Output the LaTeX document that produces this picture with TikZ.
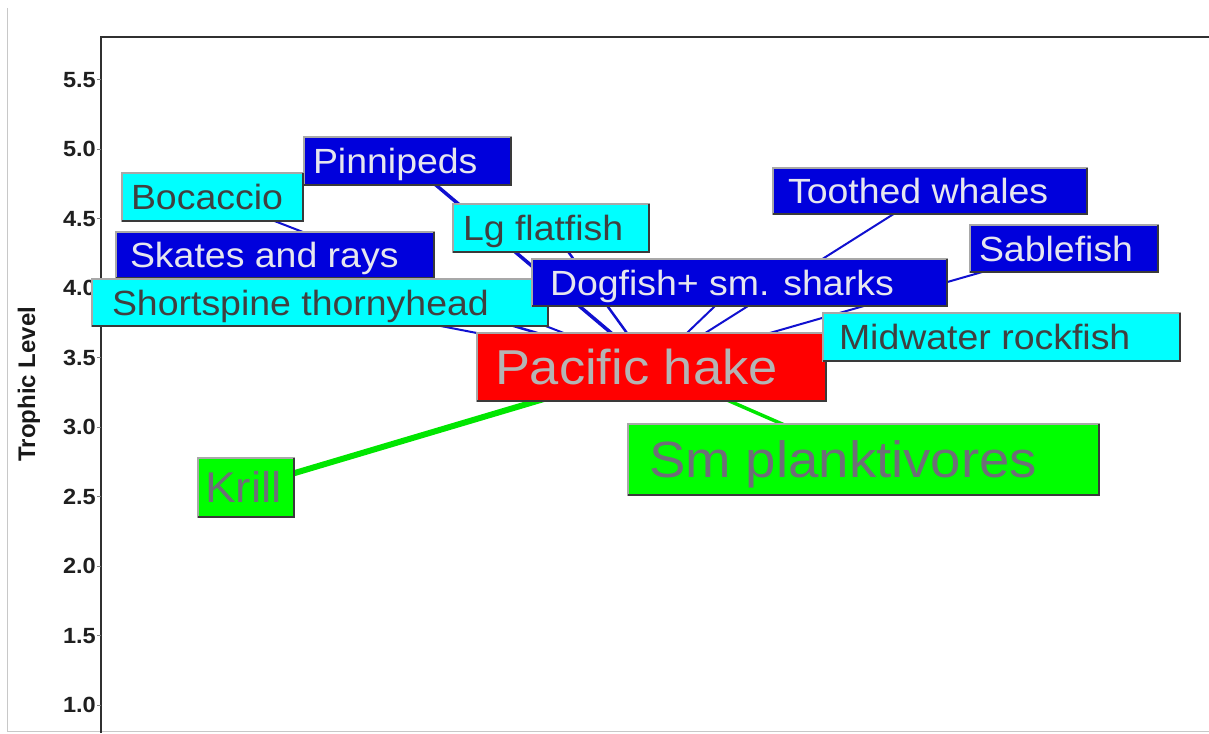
\documentclass[tikz,border=0pt]{standalone}
\usepackage{fontspec}
\setmainfont{Liberation Sans}[FakeStretch=1.07]
\newfontfamily\ylabfont{Liberation Sans}
\usetikzlibrary{backgrounds}
\definecolor{boxblue}{HTML}{0000DC}
\definecolor{boxcyan}{HTML}{00FFFF}
\definecolor{boxred}{HTML}{FF0000}
\definecolor{boxgreen}{HTML}{00FF00}
\definecolor{txtlight}{HTML}{E6E6EE}
\definecolor{txtdark}{HTML}{404040}
\definecolor{txthake}{HTML}{B4B4B4}
\definecolor{txtgreen}{HTML}{6E6E78}
\definecolor{edgelight}{HTML}{A8A8A8}
\definecolor{edgedark}{HTML}{3A3A3A}
\definecolor{linkblue}{HTML}{1010D0}
\definecolor{linkgreen}{HTML}{00E600}
\definecolor{framegray}{HTML}{C8C8C8}
\definecolor{axisgray}{HTML}{303030}
\newcommand{\fwbox}[3]{\makebox[#1pt][l]{\hspace{#2pt}#3}}
\newcommand{\darkedge}[1]{\draw[lowedge] (#1.south west) -- (#1.south east) -- (#1.north east);}
\tikzset{
  bx/.style={draw=edgelight, line width=1.6pt, anchor=north west, inner xsep=0pt, inner ysep=0pt, outer sep=0pt, text depth=0pt},
  normbox/.style={bx, font=\fontsize{35}{42}\selectfont, text height=25pt},
  bluebox/.style={normbox, fill=boxblue, text=txtlight},
  cyanbox/.style={normbox, fill=boxcyan, text=txtdark},
  lowedge/.style={draw=edgedark, line width=2pt},
  web/.style={draw=linkblue, line width=2pt},
  food/.style={draw=linkgreen},
  axisline/.style={draw=axisgray, line width=2pt},
  tickmark/.style={draw=gray, line width=1pt},
  ticklab/.style={anchor=east, inner sep=0pt, font=\bfseries\fontsize{22}{26}\selectfont, text=black!88},
}
\begin{document}
\begin{tikzpicture}[x=1pt,y=-1pt]
\useasboundingbox (0,0) rectangle (1209,733);
% outer frame and axes
\draw[framegray, line width=1pt] (7,8) -- (7,731) -- (1209,731);
\draw[axisline] (101,733) -- (101,37) -- (1209,37);
\foreach \v [count=\i] in {1.0,1.5,2.0,2.5,3.0,3.5,4.0,4.5,5.0,5.5}{
  \pgfmathsetmacro\yy{705-(\v-1)*138.9}
  \draw[tickmark] (97,\yy) -- (101,\yy);
  \node[ticklab] (tk\i) at (96,\yy) {\v};
}
\node[rotate=90, font=\ylabfont\bfseries\fontsize{24}{28}\selectfont, text=black!90] (ylab) at (29,384) {Trophic Level};
% boxes
\node[bluebox, minimum height=48pt] (pin) at (304,137) {\fwbox{207}{9}{Pinnipeds}}; \darkedge{pin}
\node[cyanbox, minimum height=48pt] (boc) at (122,173) {\fwbox{181}{9}{Bocaccio}}; \darkedge{boc}
\node[bluebox, minimum height=46pt] (ska) at (116,232) {\fwbox{318}{14}{Skates and rays}}; \darkedge{ska}
\node[cyanbox, minimum height=47pt] (sst) at (92,279) {\fwbox{456}{20}{Shortspine thornyhead}}; \darkedge{sst}
\node[cyanbox, minimum height=48pt] (lgf) at (453,204) {\fwbox{196}{10}{Lg flatfish}}; \darkedge{lgf}
\node[bluebox, minimum height=47pt] (dog) at (532,259) {\fwbox{415}{18}{Dogfish+ sm. sharks}}; \darkedge{dog}
\node[bx, fill=boxred, text=txthake, font=\fontsize{49}{58}\selectfont, text height=35pt, minimum height=68pt] (hake) at (477,333) {\fwbox{349}{18}{Pacific hake}}; \darkedge{hake}
\node[bluebox, minimum height=46pt] (tw) at (773,168) {\fwbox{314}{15}{Toothed whales}}; \darkedge{tw}
\node[bluebox, minimum height=47pt] (sab) at (970,225) {\fwbox{188}{9}{Sablefish}}; \darkedge{sab}
\node[cyanbox, minimum height=48pt] (mid) at (823,313) {\fwbox{357}{16}{Midwater rockfish}}; \darkedge{mid}
\node[bx, fill=boxgreen, text=txtgreen, font=\fontsize{51}{60}\selectfont, text height=36.5pt, minimum height=71pt] (sm) at (628,424) {\fwbox{471}{21}{Sm planktivores}}; \darkedge{sm}
\node[bx, fill=boxgreen, text=txtgreen, font=\fontsize{43}{50}\selectfont, text height=30.8pt, minimum height=59pt] (kr) at (198,458) {\fwbox{96}{7}{Krill}}; \darkedge{kr}
% links
\begin{pgfonlayer}{background}
\draw[web, line width=3.5pt] (pin.center) -- (hake.center);
\draw[web] (boc.center) -- (hake.center);
\draw[web, line width=2.5pt] (ska.center) -- (hake.center);
\draw[web] (sst.center) -- (hake.center);
\draw[web, line width=2.5pt] (lgf.center) -- (hake.center);
\draw[web] (dog.center) -- (hake.center);
\draw[web] (tw.center) -- (hake.center);
\draw[web] (sab.center) -- (hake.center);
\draw[web] (mid.center) -- (hake.center);
\draw[food, line width=6pt] (hake.center) -- (kr.center);
\draw[food, line width=3.5pt] (hake.center) -- (sm.center);
\end{pgfonlayer}
\end{tikzpicture}
\end{document}
